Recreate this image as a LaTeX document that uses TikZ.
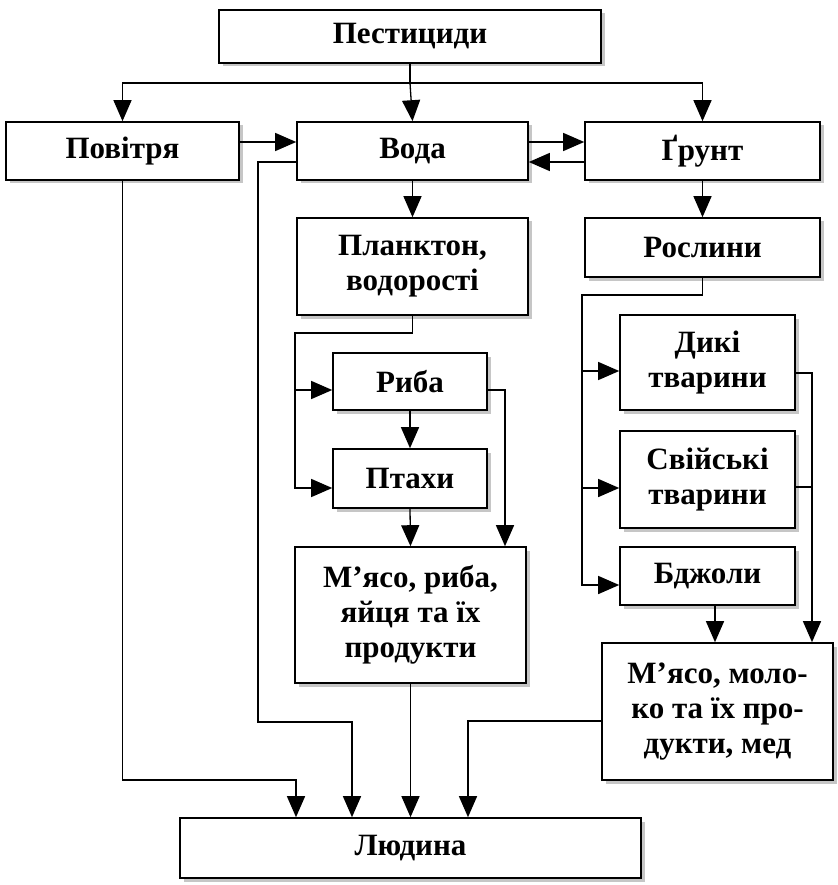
\documentclass[tikz,border=0pt]{standalone}
\usepackage{fontspec}
\setmainfont{Liberation Serif}
\usetikzlibrary{arrows.meta,shadows}
\begin{document}
\begin{tikzpicture}[x=1pt,y=-1pt,
  box/.style={draw=black, line width=1.6pt, fill=white,
    font=\bfseries\fontsize{31}{35}\selectfont, align=center, inner sep=0pt,
    drop shadow={shadow xshift=3.5pt, shadow yshift=-3.5pt, fill=gray!45, opacity=1}},
  arr/.style={line width=1.3pt, -{Triangle[length=21pt,width=18pt]}},
  ln/.style={line width=1.3pt}]
\fill[white] (0,0) rectangle (837,885);
\useasboundingbox (0,0) rectangle (837,885);

% boxes
\node[box, minimum width=382pt, minimum height=53pt] (pest) at (410,36.5) {Пестициди};
\node[box, minimum width=233pt, minimum height=58pt] (pov) at (122.5,151) {Повітря};
\node[box, minimum width=231pt, minimum height=58pt] (voda) at (412.5,151) {Вода};
\node[box, minimum width=235pt, minimum height=58pt] (grunt) at (702.5,151) {Ґрунт};
\node[box, minimum width=231pt, minimum height=97pt] (plank) at (412.5,266.5) {Планктон,\\водорості};
\node[box, minimum width=235pt, minimum height=59pt] (rosl) at (702.5,247.5) {Рослини};
\node[box, minimum width=154pt, minimum height=57pt] (ryba) at (410,381.5) {Риба};
\node[box, minimum width=154pt, minimum height=59pt] (ptahy) at (410,478.5) {Птахи};
\node[box, minimum width=231pt, minimum height=136pt] (myaso1) at (410.5,615) {М’ясо, риба,\\яйця та їх\\продукти};
\node[box, minimum width=175pt, minimum height=95pt] (dyki) at (707.5,362.5) {Дикі\\тварини};
\node[box, minimum width=175pt, minimum height=97pt] (sviy) at (707.5,479.5) {Свійські\\тварини};
\node[box, minimum width=175pt, minimum height=58pt] (bdzh) at (707.5,576) {Бджоли};
\node[box, minimum width=231pt, minimum height=137pt] (myaso2) at (717.5,711.5) {М’ясо, моло-\\ко та їх про-\\дукти, мед};
\node[box, minimum width=461pt, minimum height=60pt] (lyud) at (410.5,848) {Людина};

% coordinates
\coordinate (j1) at (410,83);
\coordinate (w1a) at (258,722);
\coordinate (w1b) at (352,722);
\coordinate (w2) at (296,780);
\coordinate (w3) at (468,721);
\coordinate (p2) at (295,333);
\coordinate (r1) at (505,390);
\coordinate (q1) at (582,295);
\coordinate (q2) at (812,373);
\coordinate (q3) at (812,487);
\coordinate (b1) at (715,0);

% connectors
\draw[ln] (pest.south) -- (j1);
\draw[arr] (j1) -| (pov.north);
\draw[arr] (j1) -- (voda.north);
\draw[arr] (j1) -| (grunt.north);
\draw[arr] ([yshift=9pt]pov.east) -- ([yshift=9pt]voda.west);
\draw[arr] ([yshift=9pt]voda.east) -- ([yshift=9pt]grunt.west);
\draw[arr] ([yshift=-11pt]grunt.west) -- ([yshift=-11pt]voda.east);
\draw[arr] ([yshift=-11pt]voda.west) -| (w1a) -- (w1b) -- (w1b |- lyud.north);
\draw[arr] (pov.south) |- (w2) -- (w2 |- lyud.north);
\draw[arr] (myaso1.south) -- (myaso1.south |- lyud.north);
\draw[arr] (myaso2.west |- w3) -- (w3) -- (w3 |- lyud.north);
\draw[arr] (voda.south) -- (plank.north);
\draw[arr] (grunt.south) -- (rosl.north);
\draw[arr] (plank.south) |- (p2) |- ([yshift=-8.5pt]ryba.west);
\draw[arr] (p2) |- ([yshift=-9.5pt]ptahy.west);
\draw[arr] (ryba.south) -- (ptahy.north);
\draw[arr] (ptahy.south) -- (myaso1.north);
\draw[arr] ([yshift=-8.5pt]ryba.east) -| (myaso1.north -| r1);
\draw[arr] (rosl.south) |- (q1) |- ([yshift=-8.5pt]dyki.west);
\draw[arr] (q1) |- ([yshift=-8.5pt]sviy.west);
\draw[arr] (q1) |- ([yshift=-9pt]bdzh.west);
\draw[arr] ([yshift=-10.5pt]dyki.east) -| (myaso2.north -| q2);
\draw[ln] (sviy.east |- q3) -- (q3);
\draw[arr] (bdzh.south -| b1) -- (myaso2.north -| b1);
\end{tikzpicture}
\end{document}
